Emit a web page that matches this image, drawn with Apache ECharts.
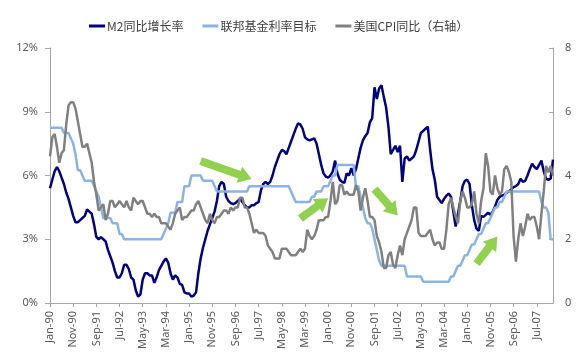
<!DOCTYPE html>
<html>
<head>
<meta charset="utf-8">
<script src="https://cdn.jsdelivr.net/npm/echarts@6/dist/echarts.min.js"></script>
<style>html,body{margin:0;padding:0;background:#fff;}#c{width:584px;height:361px;}</style>
</head>
<body>
<div id="c"></div>
<script>
// Month labels Jan-90 .. Feb-08
var monthNames = ['Jan','Feb','Mar','Apr','May','Jun','Jul','Aug','Sep','Oct','Nov','Dec'];
var startYear = 1990, monthCount = 218;
var categories = [];
for (var i = 0; i < monthCount; i++) {
  var y = startYear + Math.floor(i / 12);
  categories.push(monthNames[i % 12] + '-' + String(y % 100).padStart(2, '0'));
}

var seriesNames = ['M2同比增长率', '联邦基金利率目标', '美国CPI同比（右轴）'];

// M2 YoY growth (%), left axis
var m2 = [
  5.4,5.8,6.2,6.4,6.2,5.9,5.6,5.2,4.9,4.5,4.1,3.8,
  3.8,3.9,4.0,4.1,4.4,4.3,4.2,3.7,3.1,3.0,3.1,3.0,
  2.9,2.5,2.2,1.9,1.5,1.2,1.2,1.4,1.8,1.8,1.6,1.2,
  1.1,0.6,0.3,0.4,1.1,1.4,1.4,1.3,1.3,0.95,1.2,1.55,
  1.75,1.95,2.1,1.9,1.4,1.1,1.3,1.2,0.9,0.85,0.5,0.45,
  0.45,0.3,0.35,0.5,1.4,2.1,2.6,3.0,3.4,3.7,4.0,4.3,
  4.8,5.5,5.7,5.6,5.0,4.8,4.7,4.65,4.7,4.8,4.9,4.75,
  4.6,4.5,4.5,4.6,4.6,4.7,4.75,5.3,5.6,5.7,5.6,5.7,
  6.0,6.4,6.7,7.0,7.2,7.15,7.0,7.3,7.6,7.9,8.2,8.45,
  8.4,8.2,7.8,7.7,7.65,7.7,7.75,7.5,7.0,6.5,6.1,5.95,
  5.9,6.0,6.2,6.7,6.1,5.8,5.7,5.65,6.1,6.0,6.35,6.0,
  6.3,6.8,7.3,7.65,7.85,8.0,8.5,8.7,10.15,9.6,10.1,10.25,
  9.7,9.2,8.3,7.0,7.2,7.4,7.1,7.4,5.7,6.8,6.9,6.7,
  6.8,6.9,7.2,7.6,8.0,8.1,8.2,8.3,7.2,6.3,5.8,5.0,
  4.85,4.7,4.9,5.05,5.15,5.0,4.3,3.6,4.2,4.8,5.5,5.75,
  5.8,5.6,4.6,3.9,3.5,3.4,4.1,4.05,4.15,4.25,4.15,4.3,
  4.55,4.85,5.0,5.05,5.1,5.2,5.25,5.35,5.45,5.5,5.6,5.85,
  5.7,5.75,6.0,6.3,6.55,6.4,6.3,6.5,6.7,6.2,5.85,5.8,
  5.85,6.75
];

// Fed funds target rate (%), left axis
var fedFunds = [
  8.25,8.25,8.25,8.25,8.25,8.25,8.0,8.0,8.0,7.75,7.5,7.0,
  6.25,6.25,6.0,5.75,5.75,5.75,5.75,5.5,5.25,5.0,4.5,4.0,
  4.0,4.0,4.0,3.75,3.75,3.75,3.25,3.25,3.0,3.0,3.0,3.0,
  3.0,3.0,3.0,3.0,3.0,3.0,3.0,3.0,3.0,3.0,3.0,3.0,
  3.0,3.25,3.5,3.75,4.25,4.25,4.25,4.75,4.75,4.75,5.5,5.5,
  5.5,6.0,6.0,6.0,6.0,6.0,5.75,5.75,5.75,5.75,5.75,5.5,
  5.25,5.25,5.25,5.25,5.25,5.25,5.25,5.25,5.25,5.25,5.25,5.25,
  5.25,5.25,5.5,5.5,5.5,5.5,5.5,5.5,5.5,5.5,5.5,5.5,
  5.5,5.5,5.5,5.5,5.5,5.5,5.5,5.5,5.25,5.0,4.75,4.75,
  4.75,4.75,4.75,4.75,4.75,5.0,5.0,5.25,5.25,5.25,5.5,5.5,
  5.5,5.75,6.0,6.0,6.5,6.5,6.5,6.5,6.5,6.5,6.5,6.5,
  5.5,5.5,5.0,4.5,4.0,3.75,3.75,3.5,3.0,2.5,2.0,1.75,
  1.75,1.75,1.75,1.75,1.75,1.75,1.75,1.75,1.75,1.75,1.25,1.25,
  1.25,1.25,1.25,1.25,1.25,1.0,1.0,1.0,1.0,1.0,1.0,1.0,
  1.0,1.0,1.0,1.0,1.0,1.25,1.25,1.5,1.75,1.75,2.0,2.25,
  2.25,2.5,2.75,2.75,3.0,3.25,3.25,3.5,3.75,3.75,4.0,4.25,
  4.5,4.5,4.75,4.75,5.0,5.25,5.25,5.25,5.25,5.25,5.25,5.25,
  5.25,5.25,5.25,5.25,5.25,5.25,5.25,5.25,4.75,4.5,4.5,4.25,
  3.0,3.0
];

// US CPI YoY (%), right axis
var cpi = [
  4.6,5.2,5.3,4.9,4.4,4.7,4.8,5.6,6.2,6.3,6.3,6.1,
  5.7,5.3,4.9,4.9,5.0,4.7,4.4,3.8,3.4,2.9,3.0,3.1,
  2.6,2.8,3.2,3.2,3.0,3.1,3.2,3.1,3.0,3.2,3.0,2.9,
  3.3,3.2,3.1,3.2,3.2,3.0,2.8,2.8,2.7,2.8,2.7,2.7,
  2.5,2.5,2.5,2.4,2.3,2.5,2.8,2.9,3.0,2.6,2.7,2.7,
  2.8,2.9,2.9,3.1,3.2,3.0,2.8,2.6,2.5,2.8,2.6,2.5,
  2.7,2.7,2.8,2.9,2.9,2.8,3.0,2.9,3.0,3.0,3.3,3.3,
  3.0,3.0,2.8,2.5,2.2,2.3,2.2,2.2,2.2,2.1,1.8,1.7,
  1.6,1.4,1.4,1.4,1.7,1.7,1.7,1.6,1.5,1.5,1.5,1.6,
  1.7,1.6,1.7,2.3,2.1,2.0,2.1,2.3,2.6,2.6,2.6,2.7,
  2.7,3.2,3.8,3.1,3.2,3.7,3.7,3.4,3.5,3.4,3.4,3.4,
  3.7,3.5,2.9,3.3,3.6,3.2,2.7,2.7,2.6,2.1,1.9,1.6,
  1.1,1.1,1.5,1.6,1.2,1.1,1.5,1.8,1.5,2.0,2.2,2.4,
  2.6,3.0,3.0,2.2,2.1,2.1,2.1,2.2,2.3,2.0,1.8,1.9,
  1.9,1.7,1.7,2.3,3.1,3.3,3.0,2.7,2.5,3.2,3.5,3.3,
  3.0,3.0,3.1,3.5,2.8,2.5,3.2,3.6,4.7,4.3,3.5,3.4,
  4.0,3.6,3.4,3.5,4.2,4.3,4.1,3.8,2.1,1.3,2.0,2.5,
  2.1,2.4,2.8,2.6,2.7,2.7,2.4,2.0,2.8,3.5,4.3,4.1,
  4.3,4.0
];

// Green annotation arrows: [fromIndex, fromValue, toIndex, toValue] in left-axis data space
var arrows = [
  [65.1, 6.68, 86.5, 5.83],
  [107.6, 3.98, 119.7, 4.93],
  [140.1, 5.36, 150.1, 4.12],
  [184.4, 1.85, 193.1, 3.13]
];

var leftTicks = { min: 0, max: 12, interval: 3 };
var rightTicks = { min: 0, max: 8, interval: 2 };

var chart = echarts.init(document.getElementById('c'), null, { renderer: 'canvas' });
var labelFont = 'Noto Sans';
var axisColor = '#a6a6a6';
var textColor = '#595959';

var option = {
  backgroundColor: '#ffffff',
  animation: false,
  legend: {
    top: 15,
    left: 84,
    itemGap: 19,
    itemWidth: 16,
    itemHeight: 3,
    icon: 'rect',
    textStyle: { fontFamily: 'Noto Sans CJK SC', fontSize: 12, color: '#404040', padding: [0, 0, 0, -3] },
    data: seriesNames
  },
  grid: { left: 50, right: 31, top: 48, bottom: 58, containLabel: false },
  xAxis: {
    type: 'category',
    data: categories,
    boundaryGap: false,
    axisLine: { lineStyle: { color: axisColor, width: 1 } },
    axisTick: { show: true, interval: 9, length: 4, lineStyle: { color: axisColor } },
    axisLabel: { interval: 9, rotate: 90, margin: 8, fontFamily: labelFont, fontSize: 11, color: textColor },
    splitLine: { show: false }
  },
  yAxis: [
    {
      type: 'value',
      min: leftTicks.min, max: leftTicks.max, interval: leftTicks.interval,
      axisLine: { show: true, lineStyle: { color: axisColor } },
      axisTick: { show: true, length: 5, lineStyle: { color: axisColor } },
      axisLabel: { formatter: '{value}%', margin: 12, fontFamily: labelFont, fontSize: 11, color: textColor },
      splitLine: { show: false }
    },
    {
      type: 'value',
      position: 'right',
      min: rightTicks.min, max: rightTicks.max, interval: rightTicks.interval,
      axisLine: { show: true, lineStyle: { color: axisColor } },
      axisTick: { show: true, inside: true, length: 4, lineStyle: { color: axisColor } },
      axisLabel: { margin: 12, fontFamily: labelFont, fontSize: 11, color: textColor },
      splitLine: { show: false }
    }
  ],
  series: [
    {
      name: seriesNames[0], type: 'line', data: m2, yAxisIndex: 0,
      showSymbol: false, symbol: 'none',
      lineStyle: { color: '#000080', width: 2.5 }, itemStyle: { color: '#000080' }
    },
    {
      name: seriesNames[1], type: 'line', data: fedFunds, yAxisIndex: 0,
      showSymbol: false, symbol: 'none',
      lineStyle: { color: '#8db3e2', width: 2.5 }, itemStyle: { color: '#8db3e2' }
    },
    {
      name: seriesNames[2], type: 'line', data: cpi, yAxisIndex: 1,
      showSymbol: false, symbol: 'none',
      lineStyle: { color: '#808080', width: 2.5 }, itemStyle: { color: '#808080' }
    }
  ]
};
chart.setOption(option);

// Build arrow polygons from data-space anchors
function arrowPoly(p0, p1, shaftW, headW, headL) {
  var dx = p1[0] - p0[0], dy = p1[1] - p0[1];
  var len = Math.sqrt(dx * dx + dy * dy);
  var ux = dx / len, uy = dy / len, nx = -uy, ny = ux;
  var bx = p1[0] - ux * headL, by = p1[1] - uy * headL;
  var s = shaftW / 2, h = headW / 2;
  return [
    [p0[0] + nx * s, p0[1] + ny * s],
    [bx + nx * s, by + ny * s],
    [bx + nx * h, by + ny * h],
    [p1[0], p1[1]],
    [bx - nx * h, by - ny * h],
    [bx - nx * s, by - ny * s],
    [p0[0] - nx * s, p0[1] - ny * s]
  ];
}
var gfx = arrows.map(function (a) {
  var p0 = chart.convertToPixel({ xAxisIndex: 0, yAxisIndex: 0 }, [a[0], a[1]]);
  var p1 = chart.convertToPixel({ xAxisIndex: 0, yAxisIndex: 0 }, [a[2], a[3]]);
  return {
    type: 'polygon',
    shape: { points: arrowPoly(p0, p1, 8, 17, 13) },
    style: { fill: '#92d050' },
    z: 100
  };
});
chart.setOption({ graphic: gfx });
</script>
</body>
</html>
